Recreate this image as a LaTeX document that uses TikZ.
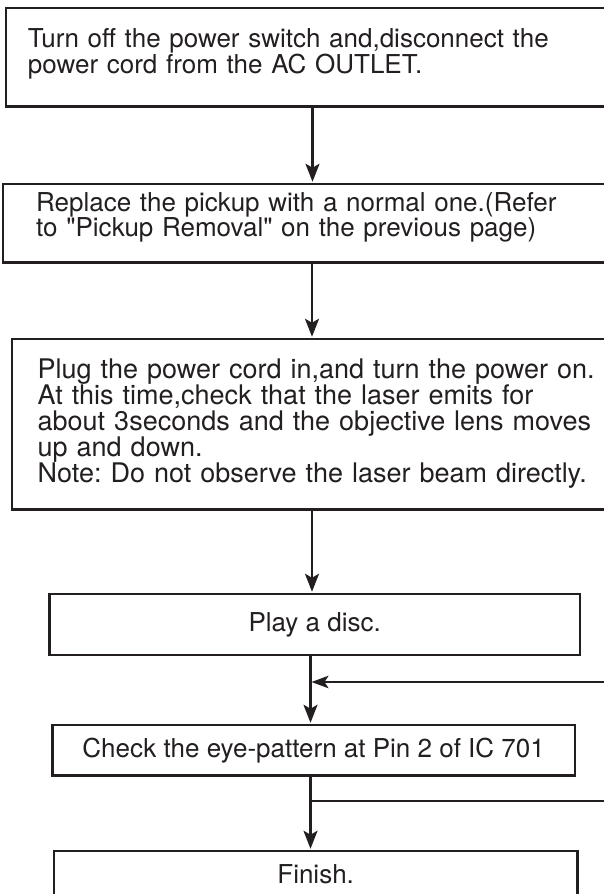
\documentclass[tikz,border=0pt]{standalone}
\usepackage{fontspec}
\setmainfont{TeX Gyre Heros}[Ligatures=TeXOff]
\usetikzlibrary{arrows.meta}
\definecolor{ink}{HTML}{231F20}
\frenchspacing
\tikzset{
  box/.style={draw=ink, line width=2.5pt, inner sep=0pt, rectangle},
  lefttext/.style={anchor=base west, inner sep=0pt, text width=600pt, align=left, text=ink,
    font=\fontsize{26}{24.5}\selectfont},
  ctext/.style={text=ink, font=\fontsize{26}{24.5}\selectfont},
  arr/.style={draw=ink, line width=2.4pt, -{Stealth[length=18pt,width=14pt,inset=4pt]}, shorten >=1pt},
  fbline/.style={draw=ink, line width=2pt},
  fbarr/.style={draw=ink, line width=2pt, -{Stealth[length=17pt,width=12.5pt,inset=4pt]}},
}
\begin{document}
\begin{tikzpicture}[x=1pt,y=-1pt]
\clip (0,0) rectangle (604,894);
\fill[white] (0,0) rectangle (604,894);
% boxes
\node[box, minimum width=634pt, minimum height=98.5pt] (b1) at (323,57.25) {};
\node[box, minimum width=637pt, minimum height=78.5pt] (b2) at (321.5,223.25) {};
\node[box, minimum width=628pt, minimum height=170.3pt] (b3) at (326,424.15) {};
\node[box, minimum width=530.7pt, minimum height=61pt, ctext] (b4) at (314.65,624.5) {Play a disc.};
\node[box, minimum width=522.7pt, minimum height=50.5pt, ctext] (b5) at (313.65,750.25) {Check the eye-pattern at Pin 2 of IC 701};
\node[box, minimum width=523.3pt, minimum height=46pt, ctext] (b6) at (315.65,874) {Finish.};
% left aligned texts
\node[lefttext] (t1) at (27.7,47.5) {Turn off the power switch and,disconnect the\\power cord from the AC OUTLET.};
\node[lefttext, font=\fontsize{26}{25}\selectfont] (t2) at (36,211.5) {Replace the pickup with a normal one.(Refer\\to "Pickup Removal" on the previous page)};
\node[lefttext, font=\fontsize{27}{26}\selectfont] (t3) at (37.5,378.5) {Plug the power cord in,and turn the power on.\\At this time,check that the laser emits for\\about 3seconds and the objective lens moves\\up and down.\\Note: Do not observe the laser beam directly.};
% connector columns
\coordinate (c1) at (312.5,0);
\coordinate (c2) at (312,0);
\coordinate (c3) at (310.5,0);
\coordinate (fb1) at (620,682);
\coordinate (fb2) at (620,801);
% connectors
\draw[arr] (b1.south -| c1) -- (b2.north -| c1);
\draw[arr] (b2.south -| c2) -- (b3.north -| c2);
\draw[arr] (b3.south -| c2) -- (b4.north -| c2);
\draw[arr] (b4.south -| c3) -- (b5.north -| c3);
\draw[arr] (b5.south -| c3) -- (b6.north -| c3);
\draw[fbarr] (fb1) -- ([xshift=1pt]fb1 -| c3);
\draw[fbline] (fb2 -| c3) -- (fb2);
\end{tikzpicture}
\end{document}
